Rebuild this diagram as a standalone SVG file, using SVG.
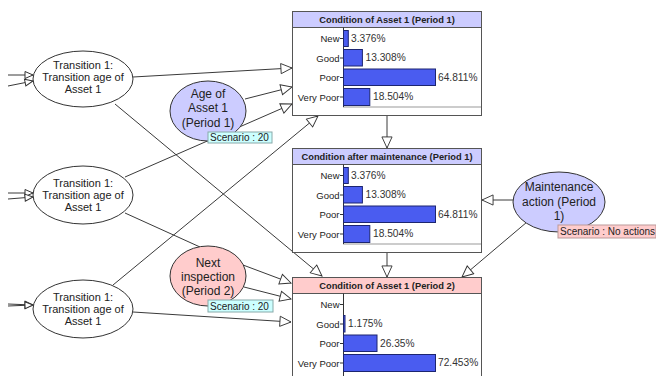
<svg xmlns="http://www.w3.org/2000/svg" width="656" height="376" viewBox="0 0 656 376">
<style>
text{font-family:"Liberation Sans",Arial,sans-serif;fill:#222}
.c{stroke:#3a3a3a;stroke-width:1;fill:none}
.big{marker-end:url(#ah)}
.sm{marker-end:url(#as)}
.el{stroke:#333;stroke-width:1}
.nt{font-size:11px;text-anchor:middle}
.nt2{font-size:12px;text-anchor:middle}
.scn{font-size:10px}
.box{fill:#fff;stroke:#555;stroke-width:1}
.hdr{stroke:#555;stroke-width:1}
.ttl{font-size:9.3px;font-weight:bold;text-anchor:middle}
.lbl{font-size:9.5px;text-anchor:end}
.pct{font-size:10.2px;fill:#333}
.bar{fill:#4a5cf0;stroke:#1c2570;stroke-width:1}
.ax{stroke:#333;stroke-width:1}
.base{stroke:#999;stroke-width:1}
</style>
<defs>
<marker id="ah" markerUnits="userSpaceOnUse" markerWidth="14" markerHeight="12" refX="12" refY="5.5" orient="auto" viewBox="-1 -1 14 13">
<path d="M0,0 L12,5.5 L0,11 z" fill="#fff" stroke="#333" stroke-width="1"/>
</marker>
<marker id="as" markerUnits="userSpaceOnUse" markerWidth="10" markerHeight="9" refX="8" refY="3.5" orient="auto" viewBox="-1 -1 10 9">
<path d="M0,0 L8,3.5 L0,7 z" fill="#fff" stroke="#333" stroke-width="1"/>
</marker>
</defs>
<rect width="656" height="376" fill="#fff"/>
<g id="connectors">
<line class="c sm" x1="8" y1="75" x2="33" y2="75"/>
<line class="c sm" x1="8" y1="86" x2="33" y2="81"/>
<line class="c sm" x1="8" y1="193" x2="33" y2="193"/>
<line class="c sm" x1="8" y1="199" x2="33" y2="197"/>
<line class="c sm" x1="8" y1="304" x2="33" y2="305"/>
<line class="c sm" x1="8" y1="306" x2="33" y2="305"/>
<line class="c big" x1="133" y1="77" x2="292" y2="68"/>
<line class="c big" x1="245" y1="99" x2="292" y2="87"/>
<line class="c big" x1="125" y1="177" x2="292" y2="104"/>
<line class="c big" x1="113" y1="285" x2="318" y2="116"/>
<line class="c big" x1="115" y1="104" x2="322" y2="276"/>
<line class="c" x1="125" y1="213" x2="200" y2="247"/>
<line class="c big" x1="243" y1="265" x2="291" y2="283"/>
<line class="c big" x1="244" y1="287" x2="291" y2="299"/>
<line class="c big" x1="133" y1="312" x2="291" y2="322"/>
<line class="c big" x1="387" y1="115" x2="387" y2="148"/>
<line class="c big" x1="387" y1="252" x2="387" y2="277"/>
<line class="c big" x1="513" y1="200" x2="482" y2="200"/>
<line class="c big" x1="527" y1="222" x2="462" y2="277"/>
</g>
<g id="transition1">
<ellipse class="el" cx="83" cy="79" rx="50" ry="28" fill="#fff"/>
<text class="nt" x="83" y="69">Transition 1:</text>
<text class="nt" x="83" y="81">Transition age of</text>
<text class="nt" x="83" y="93">Asset 1</text>
</g>
<g id="transition2">
<ellipse class="el" cx="83" cy="195" rx="50" ry="29" fill="#fff"/>
<text class="nt" x="83" y="187">Transition 1:</text>
<text class="nt" x="83" y="199">Transition age of</text>
<text class="nt" x="83" y="211">Asset 1</text>
</g>
<g id="transition3">
<ellipse class="el" cx="83" cy="309" rx="50" ry="29" fill="#fff"/>
<text class="nt" x="83" y="301">Transition 1:</text>
<text class="nt" x="83" y="313">Transition age of</text>
<text class="nt" x="83" y="325">Asset 1</text>
</g>
<g id="age">
<ellipse class="el" cx="208" cy="111" rx="38" ry="30" fill="#ccccff"/>
<text class="nt2" x="208" y="98">Age of</text>
<text class="nt2" x="208" y="112">Asset 1</text>
<text class="nt2" x="208" y="127">(Period 1)</text>
<rect x="208" y="132" width="64" height="11" fill="#ccffff" stroke="#8aa"/>
<text class="scn" x="210" y="141">Scenario : 20</text>
</g>
<g id="nextinspection">
<ellipse class="el" cx="208" cy="276" rx="38" ry="30" fill="#ffcccc"/>
<text class="nt2" x="208" y="267">Next</text>
<text class="nt2" x="208" y="281">inspection</text>
<text class="nt2" x="208" y="295">(Period 2)</text>
<rect x="208" y="300" width="65" height="12" fill="#ccffff" stroke="#8aa"/>
<text class="scn" x="210" y="309.5">Scenario : 20</text>
</g>
<g id="maintenance">
<ellipse class="el" cx="559" cy="202" rx="46" ry="30" fill="#ccccff"/>
<text class="nt2" x="559" y="191">Maintenance</text>
<text class="nt2" x="559" y="206">action (Period</text>
<text class="nt2" x="559" y="220">1)</text>
<rect x="558" y="225" width="98" height="13" fill="#ffcccc" stroke="#b99"/>
<text class="scn" x="560" y="235">Scenario : No actions</text>
</g>
<g id="cond1">
<rect class="box" x="292.5" y="11.5" width="189" height="104"/>
<rect class="hdr" x="292.5" y="11.5" width="189" height="16" fill="#ccccff"/>
<text class="ttl" x="387" y="23">Condition of Asset 1 (Period 1)</text>
<line class="base" x1="343" y1="107" x2="481" y2="107"/>
<line class="ax" x1="343.5" y1="27.5" x2="343.5" y2="107"/>
<rect class="bar" x="343.5" y="30.5" width="4.8" height="16"/>
<rect class="bar" x="343.5" y="49.5" width="18.9" height="16.5"/>
<rect class="bar" x="343.5" y="69" width="92" height="16.5"/>
<rect class="bar" x="343.5" y="88.5" width="26.3" height="17"/>
<g class="ax"><line x1="340" y1="38.5" x2="343" y2="38.5"/><line x1="340" y1="58" x2="343" y2="58"/><line x1="340" y1="77.5" x2="343" y2="77.5"/><line x1="340" y1="97" x2="343" y2="97"/></g>
<text class="lbl" x="339.5" y="42">New</text>
<text class="lbl" x="339.5" y="61.5">Good</text>
<text class="lbl" x="339.5" y="81">Poor</text>
<text class="lbl" x="339.5" y="100.5">Very Poor</text>
<text class="pct" x="351" y="41.5">3.376%</text>
<text class="pct" x="365.5" y="61">13.308%</text>
<text class="pct" x="438" y="80.5">64.811%</text>
<text class="pct" x="373" y="100">18.504%</text>
</g>
<g id="cond2">
<rect class="box" x="292.5" y="148.5" width="189" height="104"/>
<rect class="hdr" x="292.5" y="148.5" width="189" height="16" fill="#ccccff"/>
<text class="ttl" x="387" y="160">Condition after maintenance (Period 1)</text>
<line class="base" x1="343" y1="244" x2="481" y2="244"/>
<line class="ax" x1="343.5" y1="164.5" x2="343.5" y2="244"/>
<rect class="bar" x="343.5" y="167.5" width="4.8" height="16"/>
<rect class="bar" x="343.5" y="186.5" width="18.9" height="16.5"/>
<rect class="bar" x="343.5" y="206" width="92" height="16.5"/>
<rect class="bar" x="343.5" y="225.5" width="26.3" height="17"/>
<g class="ax"><line x1="340" y1="175.5" x2="343" y2="175.5"/><line x1="340" y1="195" x2="343" y2="195"/><line x1="340" y1="214.5" x2="343" y2="214.5"/><line x1="340" y1="234" x2="343" y2="234"/></g>
<text class="lbl" x="339.5" y="179">New</text>
<text class="lbl" x="339.5" y="198.5">Good</text>
<text class="lbl" x="339.5" y="218">Poor</text>
<text class="lbl" x="339.5" y="237.5">Very Poor</text>
<text class="pct" x="351" y="178.5">3.376%</text>
<text class="pct" x="365.5" y="198">13.308%</text>
<text class="pct" x="438" y="217.5">64.811%</text>
<text class="pct" x="373" y="237">18.504%</text>
</g>
<g id="cond3">
<rect class="box" x="292.5" y="277.5" width="189" height="104"/>
<rect class="hdr" x="292.5" y="277.5" width="189" height="16" fill="#ffcccc"/>
<text class="ttl" x="387" y="289">Condition of Asset 1 (Period 2)</text>
<line class="ax" x1="343.5" y1="293.5" x2="343.5" y2="376"/>
<rect class="bar" x="343.5" y="315.5" width="1.5" height="16.5"/>
<rect class="bar" x="343.5" y="335" width="33.5" height="16.5"/>
<rect class="bar" x="343.5" y="354.5" width="92" height="17"/>
<g class="ax"><line x1="340" y1="304.5" x2="343" y2="304.5"/><line x1="340" y1="324" x2="343" y2="324"/><line x1="340" y1="343.5" x2="343" y2="343.5"/><line x1="340" y1="363" x2="343" y2="363"/></g>
<text class="lbl" x="339.5" y="308">New</text>
<text class="lbl" x="339.5" y="327.5">Good</text>
<text class="lbl" x="339.5" y="347">Poor</text>
<text class="lbl" x="339.5" y="366.5">Very Poor</text>
<text class="pct" x="348" y="327">1.175%</text>
<text class="pct" x="380" y="346.5">26.35%</text>
<text class="pct" x="438" y="366">72.453%</text>
</g>
</svg>
